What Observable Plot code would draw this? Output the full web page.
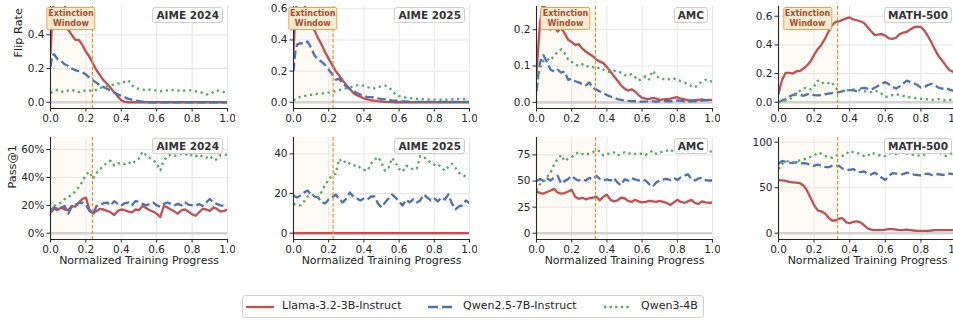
<!DOCTYPE html>
<html><head><meta charset="utf-8">
<script src="https://cdn.jsdelivr.net/npm/d3@7"></script>
<script src="https://cdn.jsdelivr.net/npm/@observablehq/plot@0.6"></script>
<style>
html,body{margin:0;padding:0;background:#fff;overflow:hidden;}
#root{position:relative;width:953px;height:320px;overflow:hidden;font-family:"DejaVu Sans",sans-serif;background:#fff;}
.panel{position:absolute;}
.tbox{position:absolute;font:bold 10.5px "DejaVu Sans",sans-serif;color:#333;background:rgba(255,255,255,0.85);border:1px solid #cfcfcf;border-radius:3px;padding:0 3px;line-height:14px;white-space:nowrap;}
.ebox{position:absolute;transform:translateX(-50%);font:bold 8px "DejaVu Sans",sans-serif;color:#a0522d;background:rgba(253,234,210,0.95);border:1px solid #f0a24a;border-radius:2px;padding:1px 1px;line-height:9.5px;text-align:center;white-space:nowrap;}
#legend{position:absolute;left:242px;top:295px;width:460px;height:21px;border:1px solid #d0d0d0;border-radius:3px;background:#fff;}
#legend .sw{position:absolute;top:4px;}
#legend .lt{position:absolute;top:3px;font:11px "DejaVu Sans",sans-serif;color:#262626;line-height:14px;white-space:nowrap;}
</style></head><body><div id="root"></div>
<script>
// ---------------- data ----------------
const progress = [0,0.01,0.02,0.04,0.06,0.08,0.10,0.12,0.14,0.16,0.18,0.20,0.22,0.24,0.26,0.28,0.30,0.32,0.34,0.36,0.38,0.40,0.42,0.44,0.46,0.48,0.50,0.52,0.54,0.56,0.58,0.60,0.62,0.64,0.66,0.68,0.70,0.72,0.74,0.76,0.78,0.80,0.82,0.84,0.86,0.88,0.90,0.92,0.94,0.96,0.98,1.00];
const models = ["Llama-3.2-3B-Instruct","Qwen2.5-7B-Instruct","Qwen3-4B"];
const benchmarks = ["AIME 2024","AIME 2025","AMC","MATH-500"];
const extinctionEnd = [0.237,0.225,0.335,0.332];
const xTicks = [0,0.2,0.4,0.6,0.8,1.0];
const flipTicks = [[0,0.2,0.4],[0,0.2,0.4,0.6],[0,0.1,0.2],[0,0.2,0.4,0.6]];
const passTicks = [[0,20,40,60],[0,20,40],[0,25,50,75],[0,50,100]];

// Flip rate
const flipLlamaAIME24 = [0.29,0.50, 0.62,0.66,0.63,0.58,0.43, 0.40,0.37,0.37,0.34,0.30, 0.27,0.23,0.19,0.16,0.13, 0.11,0.085,0.06,0.035,0.012, 0.002,0,0,0,0, 0,0,0,0,0, 0,0,0,0,0, 0,0,0,0,0, 0,0,0,0,0, 0,0,0,0,0];
const flipQwen25AIME24 = [0.21,0.28, 0.285,0.255,0.245,0.225,0.215, 0.20,0.19,0.185,0.178,0.165, 0.145,0.13,0.115,0.10,0.09, 0.08,0.07,0.058,0.048,0.038, 0.03,0.02,0.015,0.01,0.006, 0.003,0.001,0,0,0, 0,0,0,0,0, 0,0,0,0,0, 0,0,0,0,0, 0,0,0,0,0];
const flipQwen3AIME24 = [0.055,0.06, 0.065,0.075,0.065,0.06,0.07, 0.075,0.065,0.06,0.07,0.068, 0.07,0.065,0.075,0.085,0.09, 0.095,0.10,0.105,0.11,0.115, 0.122,0.13,0.10,0.085,0.08, 0.075,0.07,0.075,0.07,0.07, 0.065,0.07,0.07,0.075,0.07, 0.07,0.065,0.07,0.07,0.07, 0.065,0.06,0.055,0.045,0.05, 0.06,0.07,0.065,0.06,0.06];
const flipLlamaAIME25 = [0.33,0.55, 0.66,0.68,0.65,0.52,0.49, 0.46,0.41,0.37,0.32,0.28, 0.24,0.20,0.17,0.14,0.11, 0.085,0.06,0.045,0.035,0.025, 0.018,0.013,0.01,0.007,0.005, 0.003,0.002,0.001,0,0, 0,0,0,0,0, 0,0,0,0,0, 0,0,0,0,0, 0,0,0,0,0];
const flipQwen25AIME25 = [0.20,0.32, 0.37,0.38,0.375,0.39,0.35, 0.30,0.275,0.26,0.24,0.21, 0.18,0.145,0.15,0.12,0.10, 0.085,0.07,0.06,0.05,0.04, 0.035,0.033,0.03,0.025,0.022, 0.02,0.015,0.012,0.01,0.008, 0.006,0.005,0.004,0.003,0.002, 0.002,0.002,0.002,0.002,0.002, 0.002,0.002,0.002,0.002,0.002, 0.002,0.002,0.002,0.002,0.002];
const flipQwen3AIME25 = [0.012,0.02, 0.03,0.035,0.04,0.045,0.048, 0.05,0.055,0.055,0.06,0.062, 0.068,0.072,0.078,0.083,0.09, 0.097,0.102,0.108,0.112,0.105, 0.098,0.088,0.09,0.097,0.103, 0.107,0.097,0.075,0.05,0.04, 0.034,0.03,0.027,0.024,0.022, 0.02,0.019,0.018,0.017,0.017, 0.016,0.017,0.016,0.017,0.019, 0.02,0.021,0.02,0.02,0.02];
const flipLlamaAMC = [0.083,0.15, 0.22,0.28,0.23,0.20,0.21, 0.195,0.205,0.19,0.172,0.166, 0.158,0.16,0.148,0.14,0.133, 0.127,0.118,0.112,0.108,0.097, 0.085,0.072,0.06,0.047,0.038, 0.032,0.036,0.03,0.02,0.012, 0.01,0.009,0.012,0.01,0.007, 0.008,0.009,0.01,0.012,0.014, 0.01,0.008,0.006,0.005,0.006, 0.007,0.008,0.006,0.007,0.007];
const flipQwen25AMC = [0.03,0.075, 0.11,0.13,0.11,0.09,0.085, 0.09,0.082,0.085,0.062,0.065, 0.058,0.055,0.05,0.047,0.055, 0.04,0.035,0.03,0.025,0.02, 0.016,0.012,0.009,0.007,0.005, 0.004,0.003,0.003,0.002,0.002, 0.002,0.003,0.003,0.002,0.003, 0.004,0.003,0.003,0.004,0.005, 0.004,0.003,0.002,0.003,0.003, 0.004,0.005,0.006,0.006,0.006];
const flipQwen3AMC = [0.032,0.07, 0.095,0.115,0.12,0.115,0.13, 0.138,0.146,0.135,0.118,0.112, 0.104,0.10,0.105,0.098,0.10, 0.097,0.092,0.096,0.09,0.085, 0.083,0.087,0.085,0.082,0.075, 0.073,0.078,0.07,0.06,0.065, 0.072,0.063,0.087,0.075,0.065, 0.064,0.066,0.062,0.065,0.063, 0.058,0.055,0.05,0.045,0.041, 0.05,0.057,0.062,0.06,0.057];
const flipLlamaMATH = [0.058,0.11, 0.155,0.205,0.205,0.20,0.215, 0.218,0.235,0.256,0.285,0.33, 0.37,0.40,0.44,0.49,0.535, 0.56,0.565,0.575,0.585,0.592, 0.578,0.572,0.565,0.553,0.525, 0.495,0.47,0.472,0.476,0.465, 0.445,0.442,0.45,0.475,0.485, 0.49,0.508,0.522,0.528,0.525, 0.50,0.46,0.415,0.365,0.32, 0.29,0.255,0.225,0.212,0.20];
const flipQwen25MATH = [0,0.005, 0.012,0.022,0.04,0.05,0.058, 0.05,0.045,0.055,0.057,0.05, 0.048,0.05,0.055,0.06,0.063, 0.065,0.07,0.077,0.082,0.085, 0.082,0.078,0.095,0.10,0.095, 0.088,0.10,0.115,0.13,0.14, 0.125,0.108,0.095,0.11,0.13, 0.15,0.142,0.132,0.12,0.102, 0.105,0.12,0.128,0.118,0.10, 0.095,0.10,0.088,0.08,0.075];
const flipQwen3MATH = [0,0.002, 0.004,0.012,0.02,0.035,0.055, 0.08,0.098,0.10,0.09,0.11, 0.15,0.13,0.14,0.133,0.14, 0.10,0.082,0.077,0.082,0.086, 0.09,0.087,0.082,0.077,0.072, 0.07,0.08,0.075,0.058,0.038, 0.04,0.05,0.056,0.05,0.045, 0.037,0.033,0.03,0.027,0.024, 0.022,0.019,0.016,0.02,0.022, 0.016,0.012,0.016,0.019,0.018];

// Pass@1 (percent)
const passLlamaAIME24 = [15,16, 17.5,16.5,18.5,17,16.5, 19.5,19,22,24.5,25.5, 17,14,16,17.5,17, 16,15,13,16,17, 16.5,15.5,15,17,16.5, 19.5,18,16.5,15.5,14, 11.5,19.5,18.5,17,15.5, 14,16.5,17,15.5,13.5, 12.5,15,17.5,17,16, 18.5,17.5,15.5,16,17];
const passQwen25AIME24 = [16.5,17.5, 18.5,17.5,18,19.5,14, 19,20.5,21.5,22,20.5, 16,14,19.5,20.5,21.5, 22,20,23,21,20, 21.5,22,20,23,22.5, 21,20,21,22,20, 19,21,22,21,20, 21,20,22,20.5,20, 19.5,21,19.5,22,24.5, 22,21,20,19.5,19];
const passQwen3AIME24 = [16,18, 19.5,21,22,24.5,26, 27.5,30,33,37,42, 44,39,43,46,48, 51,52,48.5,50,50.5, 49.5,51,49.5,52,53.5, 58.5,56,54,52.5,50, 45,52,55,56.5,55.5, 56,57,56,57.5,55.5, 55,56.5,54.5,54,55.5, 52.5,53,56,56.5,56];
const passLlamaAIME25 = [0,0, 0,0,0,0,0, 0,0,0,0,0, 0,0,0,0,0, 0,0,0,0,0, 0,0,0,0,0, 0,0,0,0,0, 0,0,0,0,0, 0,0,0,0,0, 0,0,0,0,0, 0,0,0,0,0];
const passQwen25AIME25 = [19,18.5, 18,19,20.5,21.5,19.5, 18.5,18,15.5,15,17, 18,19.5,17,15.5,17.5, 20.5,18.5,17.5,16.5,17.5, 17,18.5,18.5,15,13, 15.5,17.5,19.5,18,16, 14,17,15.5,17,15.5, 16.5,19.5,18,16.5,17.5, 16,18,17,19.5,15, 12,13.5,14,16.5,15];
const passQwen3AIME25 = [15,14.5, 14.5,14,16,18.5,19.5, 19,18,21,24.5,27, 29.5,30,37.5,35.5,36.5, 35,34,34.5,33,32, 31.5,35,37,38.5,35.5, 31.5,33,38,35.5,32.5, 31,34,33.5,32,32.5, 39,38.5,37,35.5,34.5, 35,33,31.5,33.5,35, 33,30.5,29.5,28.5,27.5];
const passLlamaAMC = [39,39.5, 38.5,38,39.5,41,42.5, 39,38,38.5,40,41.5, 35,33,34,32.5,33.5, 34,35,31.5,35,37, 32,30.5,31.5,34,33.5, 31,30,32,30.5,29.5, 30,31,30.5,30,31, 30,29,27,29.5,32, 30,29,30.5,32,29, 28,30.5,29.5,29,29.5];
const passQwen25AMC = [50,51, 52,50,52.5,50.5,53.5, 55,47.5,50,52,55, 52,50.5,51.5,50.5,53, 51.5,55,52,50.5,51.5, 50.5,53,48.5,46,51.5, 50.5,53,51.5,50.5,51.5, 50.5,47,44.5,48.5,50.5, 51.5,52,51,53,51, 53.5,55,56.5,52,50.5, 52.5,53,51,50.5,50.5];
const passQwen3AMC = [41,45, 47,49,54,58,66, 71,75,69,71.5,73, 76,77.5,76,75,76.5, 77.5,79.5,78.5,74.5,76, 76.5,77.5,74.5,76,77.5, 76,77,76,75.5,76.5, 75,77.5,79,76,77.5, 78,79,80.5,77.5,78.5, 76.5,77.5,78.5,77,78, 79,78,77.5,78.5,78];
const passLlamaMATH = [58.5,58, 58,57.5,56.5,56,55.5, 55,52.5,47,39,31, 25,24,22,17.5,14, 14,16,16.5,12,11, 12.5,13,12,9,5.5, 4,3.5,3.5,3.5,4, 4.5,4.5,4,3.5,3.5, 4,3.5,3,2.5,2.5, 2.5,2.5,3,3.5,3.5, 3.5,3.5,3.5,3.5,3.5];
const passQwen25MATH = [76,78, 79.5,78.5,77.5,77,78, 76.5,77,76.5,75,74, 75.5,74.5,73,72.5,74, 74.5,74,71,70,69.5, 70.5,68,67,68,65.5, 64.5,66.5,64,61,58.5, 63,66,65.5,64.5,65, 66.5,66,64.5,64,63.5, 65,65.5,64,64.5,65, 64,64.5,65.5,65,65];
const passQwen3MATH = [70.5,73, 76,79.5,78.5,78,79, 80,81,82,84,85.5, 88.5,87.5,85,84,83, 85.5,86,85,87,90.5, 89,88.5,87,85,84.5, 88.5,87.5,86.5,84.5,85, 87.5,88,87,88.5,89.5, 87.5,86.5,86,85.5,85, 86.5,88,89,89.5,90, 86,85,87,88,85.5];

// ---------------- layout & styles ----------------
const colLeft = [50,293,536,778], colRight = [227,469,712,956];
const rowTop = [6,137], rowBottom = [108,239];
const flipDomains = [[-0.037,0.568],[-0.04,0.615],[-0.017,0.264],[-0.044,0.668]];
const passDomains = [[-4.5,68.6],[-3.2,48.3],[-6,91.7],[-6.9,105.2]];
const lineStyles = [
  {stroke:"#c44e52", strokeDasharray:null},
  {stroke:"#4c72b0", strokeDasharray:"8.5,3.7"},
  {stroke:"#55a868", strokeDasharray:"2.3,3.6"}
];

const flipSeries = [
  [flipLlamaAIME24, flipQwen25AIME24, flipQwen3AIME24],
  [flipLlamaAIME25, flipQwen25AIME25, flipQwen3AIME25],
  [flipLlamaAMC, flipQwen25AMC, flipQwen3AMC],
  [flipLlamaMATH, flipQwen25MATH, flipQwen3MATH]
];
const passSeries = [
  [passLlamaAIME24, passQwen25AIME24, passQwen3AIME24],
  [passLlamaAIME25, passQwen25AIME25, passQwen3AIME25],
  [passLlamaAMC, passQwen25AMC, passQwen3AMC],
  [passLlamaMATH, passQwen25MATH, passQwen3MATH]
];

const root = document.getElementById("root");
const f1 = d3.format(".1f");

function makePanel(row, col) {
  const ML = 46, MR = 8, MT = 6, MB = row === 0 ? 22 : 36;
  const L = colLeft[col], R = colRight[col], T = rowTop[row], B = rowBottom[row];
  const series = row === 0 ? flipSeries[col] : passSeries[col];
  const ydom = row === 0 ? flipDomains[col] : passDomains[col];
  const yt = row === 0 ? flipTicks[col] : passTicks[col];
  const yfmt = row === 0 ? f1 : (col === 0 ? (d => d + "%") : (d => String(d)));
  const win = extinctionEnd[col];
  const lineMarks = series.map((vals, k) => {
    const data = progress.map((x, i) => ({x, y: vals[i], model: models[k]}));
    const st = lineStyles[k];
    const opts = {x:"x", y:"y", stroke: st.stroke, strokeWidth: 2.3, clip: true, strokeLinejoin:"round"};
    if (st.strokeDasharray) { opts.strokeDasharray = st.strokeDasharray; opts.strokeLinecap = "butt"; }
    return Plot.line(data, opts);
  });
  const marks = [
    Plot.rect([{x1:0, x2:win, y1:ydom[0], y2:ydom[1]}], {x1:"x1", x2:"x2", y1:"y1", y2:"y2", fill:"#fdfbf4"}),
    Plot.gridX(xTicks, {stroke:"#e6e6e6", strokeOpacity:1, strokeWidth:1}),
    Plot.gridY(yt, {stroke:"#e6e6e6", strokeOpacity:1, strokeWidth:1}),
    Plot.ruleY([0], {stroke:"#d2d2d2", strokeWidth:2.6}),
    ...lineMarks,
    Plot.ruleX([win], {stroke:"#ef8d22", strokeWidth:1.2, strokeDasharray:"3.5,2"}),
    Plot.ruleX([0], {stroke:"#262626", strokeWidth:1.1}),
    Plot.ruleY([ydom[0]], {stroke:"#262626", strokeWidth:1.1}),
    Plot.axisX({ticks:xTicks, tickFormat:f1, tickSize:3.5, tickPadding:2.5, label:null, stroke:"#262626", fill:"#262626"}),
    Plot.axisY({ticks:yt, tickFormat:yfmt, tickSize:3.5, tickPadding:2.5, label:null, anchor:"left", stroke:"#262626", fill:"#262626"})
  ];
  if (col === 0) {
    marks.push(Plot.text([row === 0 ? "Flip Rate" : "Pass@1"], {text:d=>d, frameAnchor:"left", rotate:-90, dx: row === 0 ? -32 : -38, fontSize:11.3, fill:"#262626"}));
  }
  if (row === 1) {
    marks.push(Plot.text(["Normalized Training Progress"], {text:d=>d, frameAnchor:"bottom", dy:24, fontSize:11, fill:"#262626"}));
  }
  const plot = Plot.plot({
    width: (R - L) + ML + MR, height: (B - T) + MT + MB,
    marginLeft: ML, marginRight: MR, marginTop: MT, marginBottom: MB,
    style: {fontFamily:"'DejaVu Sans', sans-serif", fontSize:"10.5px", color:"#262626", background:"transparent"},
    x: {domain:[0,1]},
    y: {domain: ydom},
    marks
  });
  const svgLeft = L - ML, svgTop = T - MT;
  plot.classList.add("panel");
  plot.style.left = svgLeft + "px";
  plot.style.top = svgTop + "px";
  root.appendChild(plot);

  // benchmark title box
  const tb = document.createElement("div");
  tb.className = "tbox";
  tb.textContent = benchmarks[col];
  tb.style.top = (T + 1) + "px";
  tb.style.right = (953 - (R - 4)) + "px";
  root.appendChild(tb);

  // extinction window label (top row)
  if (row === 0) {
    const cx = svgLeft + plot.scale("x").apply(win / 2);
    const eb = document.createElement("div");
    eb.className = "ebox";
    eb.innerHTML = "Extinction<br>Window";
    eb.style.left = cx + "px";
    eb.style.top = (T + 1) + "px";
    root.appendChild(eb);
  }
}

for (let r = 0; r < 2; r++) for (let c = 0; c < 4; c++) makePanel(r, c);

// legend
const legend = document.createElement("div");
legend.id = "legend";
const legendPos = [{sw:3, tx:39}, {sw:185, tx:220}, {sw:361, tx:398}];
models.forEach((m, k) => {
  const st = lineStyles[k];
  const sw = document.createElementNS("http://www.w3.org/2000/svg", "svg");
  sw.setAttribute("class", "sw");
  sw.setAttribute("width", "28"); sw.setAttribute("height", "14");
  sw.style.left = legendPos[k].sw + "px";
  const ln = document.createElementNS("http://www.w3.org/2000/svg", "line");
  ln.setAttribute("x1", "0"); ln.setAttribute("x2", "28");
  ln.setAttribute("y1", "7"); ln.setAttribute("y2", "7");
  ln.setAttribute("stroke", st.stroke); ln.setAttribute("stroke-width", "2.3");
  if (st.strokeDasharray) { ln.setAttribute("stroke-dasharray", k === 1 ? "10,4" : "2.3,3.3"); }
  sw.appendChild(ln);
  legend.appendChild(sw);
  const t = document.createElement("div");
  t.className = "lt";
  t.style.left = legendPos[k].tx + "px";
  t.textContent = m;
  legend.appendChild(t);
});
root.appendChild(legend);
</script>
</body></html>
